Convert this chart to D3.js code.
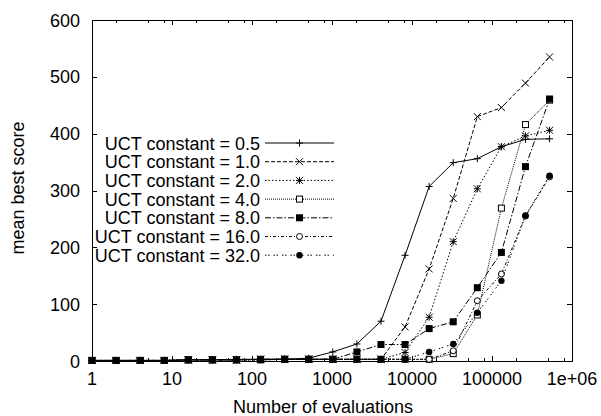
<!DOCTYPE html>
<html>
<head>
<meta charset="utf-8">
<script src="https://cdn.jsdelivr.net/npm/d3@7"></script>
<style>
    body { margin: 0; background: #fff; }
    svg text { font-family: 'Liberation Sans', Arial, Helvetica, sans-serif; font-size: 18px; fill: #000; }
</style>
</head>
<body>
<svg id="chart" width="601" height="416"></svg>
<script>
// evaluations: powers of two, 1 .. 524288
const evaluations = d3.range(20).map(i => 2 ** i);

const seriesNames = [
    'UCT constant = 0.5',
    'UCT constant = 1.0',
    'UCT constant = 2.0',
    'UCT constant = 4.0',
    'UCT constant = 8.0',
    'UCT constant = 16.0',
    'UCT constant = 32.0',
];

const uct05 = [1, 1, 1, 1, 2, 2, 3, 3, 3, 5, 16, 30, 70, 186, 307, 349, 356, 377, 390, 391];
const uct10 = [1, 1, 1, 1, 2, 2, 2, 3, 3, 3, 3, 3, 3, 60, 162, 286, 430, 446, 489, 535];
const uct20 = [1, 1, 1, 1, 2, 2, 2, 3, 3, 3, 3, 3, 3, 15, 77, 210, 303, 377, 396, 406];
const uct40 = [1, 1, 1, 1, 2, 2, 2, 2, 3, 3, 3, 3, 3, 3, 3, 13, 81, 269, 416, 459];
const uct80 = [1, 1, 1, 1, 2, 2, 2, 3, 3, 3, 3, 16, 29, 29, 57, 69, 129, 191, 342, 461];
const uct160 = [1, 1, 1, 1, 2, 2, 2, 2, 3, 3, 3, 3, 3, 3, 3, 18, 106, 153, 255, 324];
const uct320 = [1, 1, 1, 1, 2, 2, 2, 2, 3, 3, 3, 3, 3, 3, 16, 30, 85, 141, 256, 326];

const seriesValues = [uct05, uct10, uct20, uct40, uct80, uct160, uct320];

const xTickValues = [1, 10, 100, 1000, 10000, 100000, 1000000];
const xTickLabels = ['1', '10', '100', '1000', '10000', '100000', '1e+06'];
const yTickValues = [0, 100, 200, 300, 400, 500, 600];

// gnuplot-ish line types
const dashes = [null, '4,2', '1.5,2', '1,1', '6,2,1.5,2', '3,2,1,2', '1.5,1.5,1.5,4'];
const pointTypes = ['plus', 'cross', 'star', 'box', 'boxf', 'circle', 'circlef'];

const svg = d3.select('#chart');
const plot = { left: 92, right: 572, top: 20, bottom: 361 };

const xScale = d3.scaleLog().domain([1, 1e6]).range([plot.left, plot.right]);
const yScale = d3.scaleLinear().domain([0, 600]).range([plot.bottom, plot.top]);

// minor ticks
const minorX = [];
d3.range(6).forEach((k) => {
    [2, 5, 8].forEach(m => minorX.push(m * 10 ** k));
});

const axes = svg.append('g')
    .attr('stroke', '#000')
    .attr('stroke-width', 1)
    .attr('shape-rendering', 'crispEdges');

xTickValues.forEach((v) => {
    const x = Math.round(xScale(v)) + 0.5;
    axes.append('line').attr('x1', x).attr('x2', x).attr('y1', plot.bottom).attr('y2', plot.bottom - 5);
    axes.append('line').attr('x1', x).attr('x2', x).attr('y1', plot.top).attr('y2', plot.top + 5);
});
minorX.forEach((v) => {
    const x = Math.round(xScale(v)) + 0.5;
    axes.append('line').attr('x1', x).attr('x2', x).attr('y1', plot.bottom).attr('y2', plot.bottom - 3);
    axes.append('line').attr('x1', x).attr('x2', x).attr('y1', plot.top).attr('y2', plot.top + 3);
});
yTickValues.forEach((v) => {
    const y = Math.round(yScale(v)) + 0.5;
    axes.append('line').attr('x1', plot.left).attr('x2', plot.left + 5).attr('y1', y).attr('y2', y);
    axes.append('line').attr('x1', plot.right).attr('x2', plot.right - 5).attr('y1', y).attr('y2', y);
});

axes.append('rect')
    .attr('x', plot.left + 0.5)
    .attr('y', plot.top + 0.5)
    .attr('width', plot.right - plot.left)
    .attr('height', plot.bottom - plot.top)
    .attr('fill', 'none');

svg.selectAll('.xlabel')
    .data(xTickValues)
    .enter()
    .append('text')
    .attr('class', 'xlabel')
    .attr('x', d => xScale(d))
    .attr('y', 385)
    .attr('text-anchor', 'middle')
    .text((d, i) => xTickLabels[i]);

svg.selectAll('.ylabel')
    .data(yTickValues)
    .enter()
    .append('text')
    .attr('class', 'ylabel')
    .attr('x', 80)
    .attr('y', d => yScale(d) + 6.5)
    .attr('text-anchor', 'end')
    .text(d => d);

svg.append('text')
    .attr('x', 323)
    .attr('y', 413)
    .attr('text-anchor', 'middle')
    .text('Number of evaluations');

svg.append('text')
    .attr('transform', 'translate(24,188) rotate(-90)')
    .attr('text-anchor', 'middle')
    .text('mean best score');

function drawPoint(g, type, x, y) {
    const s = 3.5;
    if (type === 'plus') {
        g.append('path').attr('d', `M${x - s},${y}H${x + s}M${x},${y - s}V${y + s}`)
            .attr('stroke', '#000').attr('fill', 'none');
    } else if (type === 'cross') {
        g.append('path').attr('d', `M${x - s},${y - s}L${x + s},${y + s}M${x - s},${y + s}L${x + s},${y - s}`)
            .attr('stroke', '#000').attr('fill', 'none');
    } else if (type === 'star') {
        g.append('path').attr('d', `M${x - s},${y}H${x + s}M${x},${y - s}V${y + s}`
            + `M${x - s},${y - s}L${x + s},${y + s}M${x - s},${y + s}L${x + s},${y - s}`)
            .attr('stroke', '#000').attr('fill', 'none');
    } else if (type === 'box') {
        g.append('rect').attr('x', x - 3).attr('y', y - 3).attr('width', 6).attr('height', 6)
            .attr('stroke', '#000').attr('fill', '#fff');
    } else if (type === 'boxf') {
        g.append('rect').attr('x', x - 3.5).attr('y', y - 3.5).attr('width', 7).attr('height', 7)
            .attr('fill', '#000');
    } else if (type === 'circle') {
        g.append('circle').attr('cx', x).attr('cy', y).attr('r', 3)
            .attr('stroke', '#000').attr('fill', '#fff');
    } else {
        g.append('circle').attr('cx', x).attr('cy', y).attr('r', 3.2)
            .attr('fill', '#000');
    }
}

const line = d3.line()
    .x((d, i) => xScale(evaluations[i]))
    .y(d => yScale(d));

seriesValues.forEach((values, k) => {
    const g = svg.append('g');
    g.append('path')
        .attr('d', line(values))
        .attr('fill', 'none')
        .attr('stroke', '#000')
        .attr('stroke-width', 1)
        .attr('stroke-dasharray', dashes[k]);
    values.forEach((v, i) => drawPoint(g, pointTypes[k], xScale(evaluations[i]), yScale(v)));
});

// key
const key = svg.append('g');
seriesNames.forEach((name, k) => {
    const y = 143 + k * 18.7;
    key.append('text')
        .attr('x', 260)
        .attr('y', y + 6.5)
        .attr('text-anchor', 'end')
        .text(name);
    key.append('line')
        .attr('x1', 265).attr('x2', 334)
        .attr('y1', y).attr('y2', y)
        .attr('stroke', '#000')
        .attr('stroke-dasharray', dashes[k]);
    drawPoint(key, pointTypes[k], 299.5, y);
});
</script>
</body>
</html>
